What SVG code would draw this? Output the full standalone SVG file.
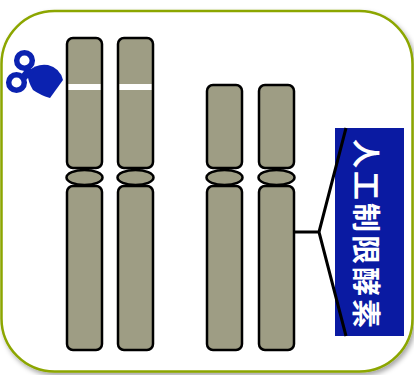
<svg xmlns="http://www.w3.org/2000/svg" width="414" height="375" viewBox="0 0 414 375">
  <defs>
    <filter id="shadow" x="-10%" y="-10%" width="120%" height="120%">
      <feDropShadow dx="2" dy="3" stdDeviation="2.5" flood-color="#000" flood-opacity="0.35"/>
    </filter>
    <style>
      .arm { fill: #9e9d84; stroke: #000; stroke-width: 2.5; }
      .cen { fill: #9e9d84; stroke: #000; stroke-width: 2.5; }
      .band { fill: #fff; }
      .conn { fill: none; stroke: #000; stroke-width: 3; stroke-linejoin: round; }
      .label { fill: #fff; font-family: "Noto Sans CJK JP", "Noto Sans CJK SC", sans-serif; font-weight: bold; font-size: 29px; }
      .scissors { fill: #0b22b0; }
      .ring { fill: none; stroke: #0b22b0; stroke-width: 5.5; }
    </style>
  </defs>

  <!-- panel -->
  <rect x="1.5" y="11" width="411" height="360.5" rx="53" ry="53" fill="#fff" stroke="#8ca600" stroke-width="2.5" filter="url(#shadow)"/>

  <!-- scissors -->
  <g id="scissors" class="scissors">
    <path d="M27,72 Q37,63 48,65 Q60,68 63,80 L50,98 Q40,95 33,90 Q28,82 27,72 Z"/>
    <path d="M28,66 L34,72 L26,80 L20,76 Z"/>
    <circle class="ring" cx="24.5" cy="60.5" r="7.8"/>
    <circle class="ring" cx="16.5" cy="82.5" r="7.8"/>
  </g>

  <!-- chromosome 1 -->
  <g id="chromosome1">
    <rect class="arm" x="67" y="38" width="35" height="130" rx="6"/>
    <rect class="band" x="68.5" y="84" width="32" height="6"/>
    <ellipse class="cen" cx="84.5" cy="177.5" rx="18" ry="7.5"/>
    <rect class="arm" x="67" y="186" width="35" height="164" rx="6"/>
  </g>

  <!-- chromosome 2 -->
  <g id="chromosome2">
    <rect class="arm" x="118" y="38" width="35" height="130" rx="6"/>
    <rect class="band" x="119.5" y="84" width="32" height="6"/>
    <ellipse class="cen" cx="135.5" cy="177.5" rx="18" ry="7.5"/>
    <rect class="arm" x="118" y="186" width="35" height="164" rx="6"/>
  </g>

  <!-- chromosome 3 -->
  <g id="chromosome3">
    <rect class="arm" x="207" y="85" width="35" height="83" rx="6"/>
    <ellipse class="cen" cx="224.5" cy="177.5" rx="18" ry="7.5"/>
    <rect class="arm" x="207" y="186" width="35" height="164" rx="6"/>
  </g>

  <!-- chromosome 4 -->
  <g id="chromosome4">
    <rect class="arm" x="259" y="85" width="35" height="83" rx="6"/>
    <ellipse class="cen" cx="276.5" cy="177.5" rx="18" ry="7.5"/>
    <rect class="arm" x="259" y="186" width="35" height="164" rx="6"/>
  </g>

  <!-- enzyme label -->
  <g id="enzyme">
    <rect x="335" y="128" width="69" height="208" fill="#0a1aa2"/>
    <text class="label" transform="translate(355,235) rotate(90)" text-anchor="middle" letter-spacing="3">人工制限酵素</text>
  </g>

  <!-- connectors -->
  <g id="connectors">
    <path class="conn" d="M294,232 L319,232 L346,128 M319,232 L346,336"/>
  </g>
</svg>
